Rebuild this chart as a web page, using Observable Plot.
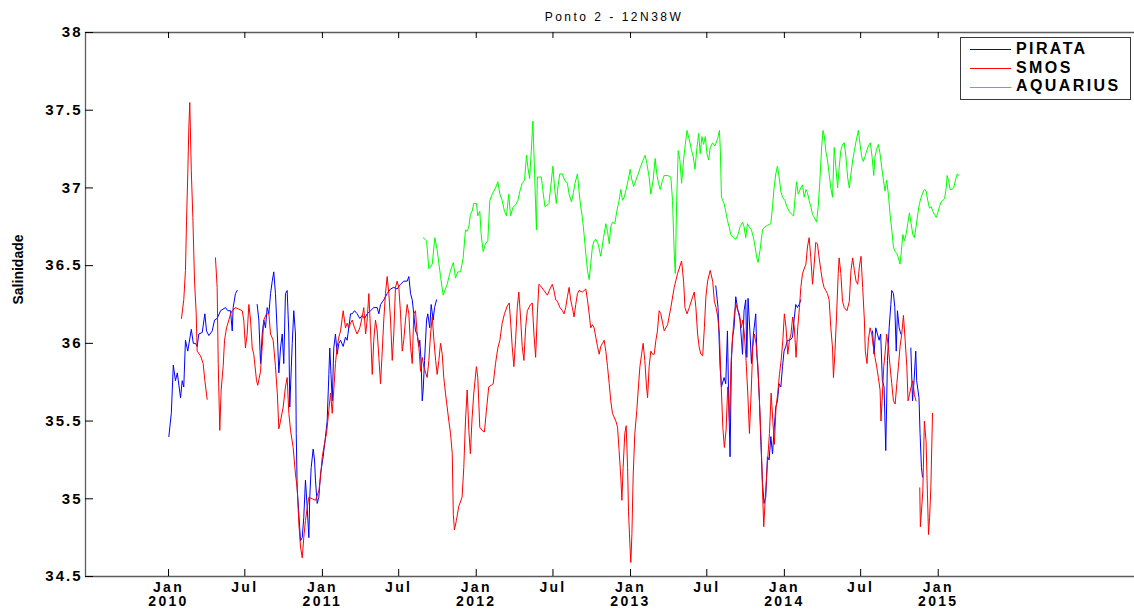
<!DOCTYPE html>
<html>
<head>
<meta charset="utf-8">
<script src="https://cdn.jsdelivr.net/npm/d3@7"></script>
<script src="https://cdn.jsdelivr.net/npm/@observablehq/plot@0.6"></script>
<style>
  body { margin: 0; background: #fff; }
  #wrap { position: relative; width: 1134px; height: 610px; overflow: hidden; background: #fff;
          font-family: "Liberation Sans", Arial, sans-serif; }
  #title { position: relative; height: 24px; }
  #title span { position: absolute; left: 0; width: 1228px; top: 10.5px; text-align: center;
                font-size: 12px; line-height: 12px; letter-spacing: 2.5px; color: #000; }
  #legend { position: absolute; left: 960px; top: 37px; width: 171px; height: 63px; box-sizing: border-box;
            border: 1px solid #3a3a3a; background: #fff; }
  #legend .ln { position: absolute; left: 9px; width: 41px; height: 1px; }
  #legend .lb { position: absolute; left: 55px; font-size: 16px; line-height: 16px; font-weight: bold;
                letter-spacing: 2.4px; color: #000; white-space: nowrap; }
  svg g[aria-label="x-axis tick label"] text { letter-spacing: 2.3px; }
  svg g[aria-label="y-axis tick label"] text { letter-spacing: 2px; }
</style>
</head>
<body>
<div id="wrap">
  <div id="title"><span></span></div>
  <div id="chart"></div>
  <div id="legend"></div>
</div>
<script>
// ---------------- data (decimal year, salinity) ----------------
const titleText = "Ponto 2 - 12N38W";
const yLabel = "Salinidade";
const seriesNames = ["PIRATA", "SMOS", "AQUARIUS"];
const seriesColors = ["#0000ff", "#ff0000", "#00ff00"];

const xTickDates = ["2010-01-01","2010-07-01","2011-01-01","2011-07-01","2012-01-01","2012-07-01",
                    "2013-01-01","2013-07-01","2014-01-01","2014-07-01","2015-01-01"];
const xTickLabels = ["Jan\n2010","Jul","Jan\n2011","Jul","Jan\n2012","Jul",
                     "Jan\n2013","Jul","Jan\n2014","Jul","Jan\n2015"];
const yTicks = [34.5, 35, 35.5, 36, 36.5, 37, 37.5, 38];
const yTickLabels = ["34.5","35","35.5","36","36.5","37","37.5","38"];

const pirataT = [
2010.002,2010.018,2010.031,2010.045,2010.057,2010.078,2010.089,2010.099,2010.110,2010.125,
2010.148,2010.161,2010.175,2010.186,2010.197,2010.219,2010.236,2010.247,2010.262,2010.284,
2010.299,2010.316,2010.338,2010.370,2010.385,2010.403,2010.414,2010.420,2010.435,2010.446,
2010.510,
2010.576,2010.587,2010.598,2010.609,2010.619,2010.630,2010.641,2010.652,2010.663,2010.674,
2010.684,2010.695,2010.707,2010.717,2010.728,2010.739,2010.749,2010.760,2010.771,2010.782,
2010.788,2010.804,2010.814,2010.825,2010.830,2010.836,2010.847,2010.858,2010.869,2010.879,
2010.890,2010.901,2010.912,2010.918,2010.927,2010.940,2010.949,2010.955,2010.966,2010.977,
2010.988,2011.005,2011.020,2011.031,2011.042,2011.048,2011.064,2011.074,2011.085,2011.096,
2011.107,2011.118,2011.135,2011.150,2011.161,2011.183,2011.194,2011.209,2011.226,2011.243,
2011.259,2011.274,2011.291,2011.313,2011.334,2011.356,2011.367,2011.378,2011.399,2011.421,
2011.443,2011.464,2011.486,2011.508,2011.529,2011.551,2011.562,2011.573,2011.584,2011.594,
2011.605,2011.616,2011.627,2011.633,2011.642,2011.649,2011.655,2011.664,2011.677,2011.685,
2011.698,2011.707,2011.720,2011.729,2011.742,
2012.500,
2013.554,2013.569,2013.582,2013.591,2013.608,2013.619,2013.630,2013.637,2013.647,2013.656,
2013.663,2013.673,2013.684,2013.695,2013.712,2013.728,2013.738,2013.749,2013.756,2013.764,
2013.777,2013.786,2013.799,2013.814,2013.821,2013.829,2013.838,2013.847,2013.858,2013.868,
2013.879,2013.890,2013.901,2013.912,2013.923,2013.933,2013.944,2013.955,2013.966,2013.977,
2013.988,2013.998,2014.009,2014.020,2014.037,2014.053,2014.063,2014.074,2014.085,2014.096,
2014.107,
2014.300,
2014.573,2014.583,2014.594,2014.605,2014.616,2014.626,2014.637,2014.648,2014.659,2014.670,
2014.681,2014.692,2014.698,2014.709,2014.718,2014.727,2014.735,2014.746,2014.757,
2014.790,
2014.822,2014.833,2014.843,2014.854,2014.860,2014.875,2014.882,2014.891,2014.898];
const pirataS = [
35.40,35.55,35.86,35.76,35.81,35.65,35.76,35.72,36.02,35.95,
36.09,36.00,36.00,35.98,36.06,36.07,36.19,36.08,36.05,36.08,
36.15,36.16,36.21,36.23,36.21,36.21,36.08,36.23,36.32,36.34,
null,
36.25,36.15,35.87,36.06,36.15,36.10,36.23,36.19,36.32,36.40,
36.46,36.32,36.06,35.81,35.97,36.06,35.87,36.32,36.34,36.06,
35.59,36.00,36.21,36.06,35.42,35.07,34.90,34.73,34.75,34.88,
35.12,34.95,34.75,35.01,35.20,35.32,35.25,35.12,34.97,35.01,
35.16,35.27,35.40,35.50,35.80,35.97,35.63,35.97,36.06,35.93,
36.00,36.02,35.98,36.04,36.02,36.19,36.19,36.21,36.19,36.16,
36.18,36.16,36.19,36.21,36.23,36.23,36.19,36.25,36.28,36.32,
36.35,36.36,36.35,36.38,36.40,36.40,36.43,36.32,36.28,36.19,
36.08,36.06,35.98,36.02,35.87,35.63,35.70,35.89,36.15,36.19,
36.10,36.25,36.15,36.23,36.28,
null,
36.37,36.23,35.85,35.72,35.78,35.74,36.08,35.70,35.27,35.89,
36.04,36.10,36.30,36.23,36.15,35.93,36.21,36.28,35.91,36.29,
36.06,35.87,36.06,36.19,35.93,35.82,35.63,35.37,35.10,34.97,
35.01,35.27,35.25,35.40,35.29,35.44,35.59,35.63,35.74,35.72,
35.85,35.95,35.98,36.02,36.02,36.04,36.15,36.25,36.23,36.25,
36.28,
null,
36.08,35.93,36.10,36.06,36.02,36.06,35.76,35.72,35.31,35.89,
36.10,36.25,36.34,36.32,36.23,35.95,36.21,36.10,36.06,
null,
35.97,35.63,35.76,35.95,35.76,35.65,35.42,35.20,35.14];

const smosT = [
2010.084,2010.099,2010.110,2010.117,2010.125,2010.132,2010.138,2010.148,2010.158,2010.169,
2010.180,2010.186,2010.208,2010.225,2010.236,2010.251,
2010.280,
2010.305,2010.316,2010.323,2010.333,2010.342,2010.355,2010.364,2010.377,2010.392,2010.403,
2010.414,2010.435,2010.457,2010.479,2010.489,2010.500,2010.511,2010.522,2010.533,2010.544,
2010.554,2010.572,2010.580,2010.598,2010.609,2010.619,2010.637,2010.652,2010.663,2010.680,
2010.695,2010.707,2010.717,2010.728,2010.745,2010.760,2010.771,2010.782,2010.793,2010.810,
2010.825,2010.836,2010.847,2010.858,2010.869,2010.879,2010.890,2010.901,2010.912,2010.934,
2010.955,2010.977,2010.988,2010.999,2011.009,2011.027,2011.042,2011.053,2011.064,2011.074,
2011.085,2011.096,2011.107,2011.118,2011.135,2011.150,2011.161,2011.172,2011.183,2011.194,
2011.209,2011.226,2011.243,2011.259,2011.269,2011.281,2011.291,2011.302,2011.313,2011.324,
2011.334,2011.345,2011.356,2011.367,2011.378,2011.389,2011.399,2011.410,2011.421,2011.432,
2011.443,2011.454,2011.464,2011.475,2011.486,2011.497,2011.508,2011.519,2011.529,2011.540,
2011.551,2011.562,2011.573,2011.584,2011.594,2011.605,2011.616,2011.627,2011.638,2011.649,
2011.659,2011.681,2011.692,2011.703,2011.714,2011.725,2011.736,2011.746,2011.757,2011.768,
2011.779,2011.789,2011.800,2011.811,2011.822,2011.833,2011.844,2011.851,2011.858,2011.871,
2011.886,2011.908,2011.919,2011.930,2011.941,2011.952,2011.962,2011.973,2011.984,2012.001,
2012.010,2012.023,2012.038,2012.053,2012.066,2012.081,2012.097,2012.110,2012.125,2012.140,
2012.153,2012.168,2012.183,2012.201,2012.214,2012.222,2012.233,2012.244,2012.255,2012.266,
2012.276,2012.287,2012.298,2012.309,2012.320,2012.331,2012.352,2012.363,2012.374,2012.385,
2012.396,2012.406,2012.417,2012.439,2012.461,2012.478,2012.493,2012.504,2012.515,2012.526,
2012.543,2012.559,2012.569,2012.580,2012.591,2012.602,2012.612,2012.623,2012.634,2012.645,
2012.656,2012.666,2012.688,2012.710,2012.721,2012.732,2012.742,2012.753,2012.764,2012.775,
2012.786,2012.797,2012.807,2012.818,2012.829,2012.840,2012.851,2012.862,2012.872,2012.883,
2012.905,2012.916,2012.926,2012.937,2012.944,2012.952,2012.963,2012.972,2012.981,2012.987,
2012.996,2013.002,2013.009,2013.017,2013.028,2013.041,2013.050,2013.061,2013.072,2013.082,
2013.093,2013.104,2013.111,2013.121,2013.132,2013.143,2013.154,2013.165,2013.175,2013.186,
2013.197,2013.219,2013.241,2013.262,2013.284,2013.306,2013.332,2013.345,2013.354,2013.367,
2013.382,2013.404,2013.414,2013.425,2013.436,2013.447,2013.458,2013.469,2013.480,2013.490,
2013.501,2013.518,2013.534,2013.545,2013.556,2013.567,2013.578,2013.589,2013.600,2013.610,
2013.621,2013.632,2013.643,2013.654,2013.665,2013.675,2013.686,2013.697,2013.708,2013.719,
2013.730,2013.740,2013.751,2013.762,2013.773,2013.784,2013.795,2013.805,2013.816,2013.827,
2013.838,2013.849,2013.860,2013.866,2013.875,2013.888,2013.903,2013.914,2013.925,2013.935,
2013.946,2013.957,2013.968,2013.979,2013.990,2014.000,2014.011,2014.022,2014.033,2014.043,
2014.054,2014.065,2014.076,2014.087,2014.098,2014.107,2014.118,2014.140,2014.150,2014.161,
2014.172,2014.183,2014.194,2014.204,2014.215,2014.226,2014.237,2014.248,2014.258,2014.269,
2014.280,2014.291,2014.302,2014.313,2014.319,2014.328,2014.339,2014.350,2014.356,2014.367,
2014.378,2014.389,2014.407,2014.422,2014.433,2014.444,2014.455,2014.466,2014.477,2014.487,
2014.498,2014.509,2014.520,2014.526,2014.537,2014.546,2014.557,2014.568,2014.578,2014.589,
2014.600,2014.611,2014.622,2014.628,2014.635,2014.646,2014.654,2014.665,2014.676,2014.687,
2014.698,2014.709,2014.720,2014.731,2014.741,2014.752,2014.763,2014.774,2014.785,2014.796,
2014.804,2014.813,2014.824,2014.835,2014.845,2014.856,
2014.868,
2014.880,2014.884,2014.900,2014.910,2014.921,2014.930,2014.937,2014.944,2014.952,2014.963];
const smosS = [
36.16,36.28,36.47,36.79,37.09,37.39,37.55,37.11,36.81,36.40,
36.19,35.95,35.92,35.87,35.76,35.64,
null,
36.55,36.36,35.87,35.44,35.70,35.85,36.02,36.10,36.15,36.19,
36.21,36.23,36.22,36.21,36.15,35.97,36.06,36.25,36.15,35.97,
35.93,35.76,35.73,35.82,35.98,36.15,36.19,36.19,36.06,36.02,
35.85,35.68,35.45,35.50,35.59,35.72,35.78,35.55,35.44,35.33,
35.16,35.07,34.84,34.69,34.62,34.75,34.86,34.94,35.01,35.00,
34.99,35.05,35.14,35.27,35.33,35.42,35.57,35.68,35.55,35.70,
35.87,35.98,36.04,36.08,36.21,36.10,36.13,36.10,36.13,36.15,
36.10,36.06,36.10,36.17,36.23,36.06,36.15,36.32,36.08,35.80,
36.02,36.15,36.08,35.91,35.74,35.95,36.15,36.32,36.43,36.32,
36.15,35.89,36.06,36.36,36.40,36.36,36.19,35.95,36.02,36.15,
36.25,36.19,35.98,35.87,36.19,36.21,36.06,35.98,35.82,35.91,
35.85,35.78,35.89,36.06,36.17,36.02,35.89,35.80,35.89,36.00,
35.93,35.78,35.68,35.59,35.50,35.42,35.29,34.90,34.80,34.86,
34.95,35.01,35.20,35.50,35.70,35.44,35.29,35.52,35.68,35.85,
35.78,35.46,35.44,35.43,35.57,35.72,35.73,35.74,35.87,35.97,
36.02,36.13,36.19,36.24,36.26,36.15,35.98,35.85,36.02,36.23,
36.33,36.17,35.98,35.89,36.10,36.21,36.25,36.26,36.06,35.91,
36.19,36.38,36.37,36.34,36.31,36.35,36.38,36.34,36.28,36.27,
36.23,36.21,36.19,36.23,36.30,36.36,36.28,36.23,36.17,36.25,
36.32,36.34,36.33,36.35,36.28,36.19,36.10,36.12,36.10,36.04,
35.98,35.93,35.98,36.00,36.02,35.95,35.85,35.74,35.63,35.55,
35.50,35.46,35.31,35.14,34.99,35.20,35.42,35.47,35.20,34.92,
34.71,34.59,34.77,35.14,35.42,35.57,35.70,35.85,35.93,36.00,
35.89,35.72,35.65,35.85,35.95,35.93,35.93,36.02,36.08,36.21,
36.19,36.08,36.12,36.23,36.36,36.45,36.53,36.40,36.23,36.19,
36.23,36.30,36.33,36.23,36.06,35.97,35.93,35.92,36.10,36.30,
36.40,36.47,36.40,36.27,36.23,36.17,36.06,35.74,35.46,35.33,
35.44,35.72,35.50,35.89,36.06,36.19,36.25,36.21,36.19,36.10,
36.15,36.06,35.89,35.68,35.42,35.68,35.98,36.06,36.00,35.87,
35.63,35.37,34.99,34.82,34.99,35.20,35.42,35.68,35.50,35.35,
35.59,35.68,35.80,35.89,36.02,36.19,36.10,35.93,36.02,36.06,
36.17,36.10,35.91,36.10,36.23,36.36,36.45,36.51,36.62,36.68,
36.55,36.38,36.51,36.65,36.64,36.55,36.47,36.40,36.36,36.34,
36.32,36.28,36.10,35.97,35.78,35.93,36.17,36.45,36.55,36.45,
36.27,36.23,36.21,36.27,36.47,36.55,36.47,36.40,36.38,36.49,
36.56,36.36,36.15,35.95,35.87,36.02,36.10,36.06,35.98,35.91,
35.85,35.78,35.70,35.50,35.63,35.85,35.93,36.06,35.98,35.85,
35.74,35.63,35.61,35.74,35.85,35.98,36.06,36.18,36.02,35.85,
35.63,35.67,35.72,35.76,35.67,35.63,
null,
35.07,34.82,35.05,35.50,35.37,35.03,34.77,34.88,35.07,35.55];

const aquariusT = [
2011.655,2011.677,2011.692,2011.714,2011.731,2011.746,2011.768,2011.785,2011.811,2011.833,
2011.851,2011.865,2011.880,2011.898,2011.915,2011.930,2011.941,2011.952,2011.962,2011.973,
2011.984,2012.001,2012.010,2012.023,2012.032,2012.045,2012.060,2012.075,2012.088,2012.104,
2012.125,2012.140,2012.153,2012.168,2012.183,2012.196,2012.211,2012.222,2012.240,2012.255,
2012.270,2012.283,2012.298,2012.313,2012.326,2012.335,2012.346,2012.357,2012.367,2012.379,
2012.390,2012.396,2012.406,2012.422,2012.435,2012.445,2012.461,2012.471,2012.482,2012.497,
2012.508,2012.519,2012.529,2012.541,2012.558,2012.573,2012.591,2012.602,2012.617,2012.630,
2012.640,2012.656,2012.666,2012.677,2012.688,2012.699,2012.710,2012.721,2012.732,2012.742,
2012.753,2012.764,2012.775,2012.790,2012.807,2012.825,2012.840,2012.851,2012.862,2012.872,
2012.883,2012.898,2012.911,2012.926,2012.937,2012.948,2012.959,2012.969,2012.985,2012.998,
2013.007,2013.020,2013.035,2013.050,2013.063,2013.078,2013.095,2013.106,2013.121,2013.132,
2013.147,2013.160,2013.171,2013.182,2013.193,2013.208,2013.219,2013.241,2013.262,2013.273,
2013.284,2013.291,2013.300,2013.310,2013.321,2013.332,2013.345,2013.356,2013.367,2013.382,
2013.397,2013.408,2013.419,2013.432,2013.443,2013.453,2013.464,2013.475,2013.486,2013.497,
2013.508,2013.518,2013.534,2013.549,2013.567,2013.578,2013.584,2013.591,2013.608,2013.619,
2013.630,2013.641,2013.652,2013.669,2013.684,2013.699,2013.712,2013.728,2013.738,2013.749,
2013.760,2013.771,2013.786,2013.799,2013.810,2013.821,2013.829,2013.842,2013.858,2013.873,
2013.890,2013.912,2013.923,2013.933,2013.944,2013.955,2013.966,2013.977,2013.988,2014.003,
2014.016,2014.031,2014.047,2014.060,2014.070,2014.079,2014.090,2014.098,2014.107,2014.118,
2014.129,2014.140,2014.150,2014.161,2014.172,2014.183,2014.194,2014.209,2014.220,2014.231,
2014.242,2014.251,2014.260,2014.269,2014.280,2014.291,2014.302,2014.313,2014.324,2014.335,
2014.346,2014.356,2014.367,2014.378,2014.389,2014.400,2014.411,2014.422,2014.433,2014.444,
2014.455,2014.466,2014.481,2014.492,2014.503,2014.513,2014.524,2014.535,2014.546,2014.559,
2014.570,2014.581,2014.589,2014.600,2014.611,2014.622,2014.633,2014.644,2014.654,2014.665,
2014.676,2014.687,2014.698,2014.709,2014.720,2014.731,2014.741,2014.752,2014.763,2014.770,
2014.780,2014.791,2014.802,2014.813,2014.824,2014.835,2014.845,2014.856,2014.867,2014.878,
2014.889,2014.900,2014.910,2014.921,2014.932,2014.943,2014.954,2014.965,2014.976,2014.987,
2014.997,2015.008,2015.019,2015.030,2015.041,2015.052,2015.058,2015.069,2015.077,2015.088,
2015.101,2015.112,2015.123,2015.134];
const aquariusS = [
36.68,36.66,36.48,36.51,36.68,36.60,36.43,36.31,36.38,36.47,
36.52,36.42,36.46,36.46,36.55,36.73,36.72,36.75,36.83,36.85,
36.90,36.90,36.82,36.85,36.70,36.59,36.64,36.66,36.92,36.96,
37.00,37.04,36.96,36.92,36.85,36.82,36.96,36.82,36.88,36.89,
36.92,36.98,37.03,37.05,37.21,37.13,37.06,37.24,37.43,37.07,
36.73,37.07,37.07,37.07,36.96,36.88,36.89,36.90,37.00,37.14,
37.00,36.90,37.00,37.09,37.09,37.05,37.03,36.96,36.91,36.97,
37.03,37.09,36.98,36.88,36.81,36.70,36.58,36.47,36.41,36.51,
36.62,36.66,36.67,36.64,36.56,36.68,36.77,36.72,36.64,36.75,
36.78,36.77,36.85,36.92,36.99,36.92,36.94,36.98,37.05,37.12,
37.06,37.01,37.05,37.09,37.13,37.17,37.21,37.16,37.07,36.96,
37.05,37.19,37.09,37.03,36.99,37.05,37.08,37.08,37.07,36.92,
36.58,36.45,36.92,37.24,37.18,37.03,37.18,37.28,37.37,37.31,
37.24,37.20,37.12,37.26,37.35,37.22,37.33,37.28,37.33,37.22,
37.18,37.26,37.29,37.27,37.32,37.37,37.24,36.94,36.90,36.85,
36.79,36.75,36.70,36.68,36.67,36.70,36.75,36.78,36.75,36.68,
36.77,36.75,36.73,36.68,36.62,36.55,36.52,36.60,36.73,36.75,
36.76,36.77,36.88,37.00,37.09,37.14,37.07,36.98,36.94,36.92,
36.88,36.85,36.83,36.82,36.94,37.04,36.96,36.98,37.00,37.02,
36.94,36.99,36.97,36.92,36.88,36.83,36.81,36.78,36.88,37.05,
37.26,37.37,37.33,37.24,37.18,37.09,37.00,36.94,37.26,37.13,
37.00,37.13,37.24,37.28,37.29,37.20,37.07,37.00,37.09,37.18,
37.24,37.30,37.37,37.28,37.20,37.17,37.20,37.24,37.27,37.29,
37.20,37.08,37.20,37.25,37.28,37.22,37.13,37.05,36.98,37.05,
36.96,36.83,36.73,36.62,36.59,36.58,36.55,36.51,36.62,36.70,
36.66,36.70,36.77,36.84,36.77,36.70,36.68,36.75,36.83,36.90,
36.94,36.97,36.99,36.98,36.92,36.87,36.88,36.85,36.83,36.81,
36.84,36.88,36.91,36.92,36.93,37.00,37.08,37.04,36.99,36.99,
37.00,37.05,37.09,37.08];

// ---------------- build ----------------
function decYearToDate(t) {
  const y = Math.floor(t);
  const a = Date.UTC(y, 0, 1), b = Date.UTC(y + 1, 0, 1);
  return new Date(a + (t - y) * (b - a));
}
function table(T, S) { return T.map((t, i) => ({date: decYearToDate(t), sal: S[i]})); }
const pirata = table(pirataT, pirataS);
const smos = table(smosT, smosS);
const aquarius = table(aquariusT, aquariusS);

const xTicks = xTickDates.map(s => new Date(s + "T00:00:00Z"));
const xLabelMap = new Map(xTicks.map((d, i) => [+d, xTickLabels[i]]));
const yLabelMap = new Map(yTicks.map((v, i) => [v, yTickLabels[i]]));

const W = 1134, H = 586;
const mL = 85, mT = 8, mB = 34;
const plotH = H - mT - mB;
const xDomain = [new Date(Date.UTC(2009, 5, 18)), new Date(Date.UTC(2016, 4, 2))];
const axisColor = "#5c5c5c";

const chart = Plot.plot({
  width: W, height: H,
  marginLeft: mL, marginRight: 0, marginTop: mT, marginBottom: mB,
  x: {type: "utc", domain: xDomain, range: [mL, 1143], label: null},
  y: {domain: [34.5, 38], range: [H - mB, mT], label: null},
  style: {fontFamily: "'Liberation Sans', Arial, sans-serif", fontSize: "15px", background: "#fff", color: "#000"},
  marks: [
    Plot.line(pirata, {x: "date", y: "sal", stroke: seriesColors[0], strokeWidth: 1}),
    Plot.line(smos, {x: "date", y: "sal", stroke: seriesColors[1], strokeWidth: 1}),
    Plot.line(aquarius, {x: "date", y: "sal", stroke: seriesColors[2], strokeWidth: 1}),
    // box (right side lies beyond the cropped edge)
    Plot.ruleY([38], {stroke: axisColor, strokeWidth: 1.3}),
    Plot.ruleY([34.5], {stroke: axisColor, strokeWidth: 1.3}),
    Plot.ruleX([xDomain[0]], {stroke: axisColor, strokeWidth: 1.3}),
    // inward ticks
    Plot.ruleX(xTicks, {stroke: "#000", insetTop: plotH - 7}),
    Plot.ruleX(xTicks, {stroke: "#000", insetBottom: plotH - 6}),
    Plot.ruleY(yTicks, {stroke: "#000", insetRight: (W - mL) - 8}),
    // tick labels
    Plot.axisX(xTicks, {anchor: "bottom", tickSize: 0, tickPadding: 6, fontWeight: "bold", fontSize: 14,
                        lineHeight: 1.0, tickFormat: d => xLabelMap.get(+d)}),
    Plot.axisY(yTicks, {anchor: "left", tickSize: 0, tickPadding: 3, fontWeight: "bold", fontSize: 15,
                        tickFormat: v => yLabelMap.get(v)}),
    // y label
    Plot.text([yLabel], {frameAnchor: "left", dx: -67, rotate: -90, fontWeight: "bold", fontSize: 14})
  ]
});
document.getElementById("chart").appendChild(chart);
document.querySelector("#title span").textContent = titleText;

// legend
const legend = document.getElementById("legend");
const rowCenters = [11.3, 30.3, 49];
seriesNames.forEach((name, i) => {
  const ln = document.createElement("div");
  ln.className = "ln";
  ln.style.top = (rowCenters[i] - 0.5) + "px";
  ln.style.background = seriesColors[i];
  legend.appendChild(ln);
  const lb = document.createElement("div");
  lb.className = "lb";
  lb.style.top = (rowCenters[i] - 8.6) + "px";
  lb.textContent = name;
  legend.appendChild(lb);
});
</script>
</body>
</html>
